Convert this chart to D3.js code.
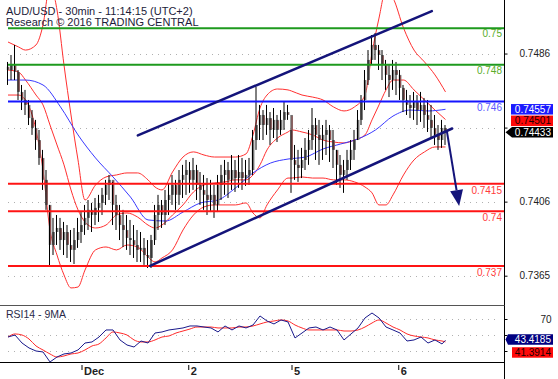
<!DOCTYPE html>
<html><head><meta charset="utf-8">
<script src="https://cdn.jsdelivr.net/npm/d3@7"></script>
<style>body{margin:0;background:#fff;}svg{display:block;font-family:"Liberation Sans",Arial,sans-serif;}</style>
</head><body><svg id="c" width="558" height="379"></svg>
<script>
// ---------- DATA ----------
const titleLines = ["AUD/USD - 30min - 11:14:15 (UTC+2)", "Research \u00a9 2016 TRADING CENTRAL"];
const firstOpen = 0.74790;
const high = [
0.74816,0.74854,0.74909,0.74772,0.74690,0.74663,0.74608,0.74553,0.74499,0.74444,
0.74335,0.74225,0.74034,0.73963,0.73979,0.73963,0.73941,0.73924,0.73897,0.73908,
0.73963,0.73995,0.74034,0.74061,0.74045,0.74072,0.74089,0.74127,0.74171,0.74198,
0.74160,0.74089,0.74034,0.74007,0.73979,0.73952,0.73924,0.73897,0.73886,0.73853,
0.73842,0.73870,0.74034,0.74089,0.74061,0.74116,0.74154,0.74198,0.74171,0.74225,
0.74253,0.74280,0.74269,0.74291,0.74253,0.74214,0.74198,0.74181,0.74171,0.74143,
0.74198,0.74253,0.74280,0.74269,0.74307,0.74280,0.74307,0.74291,0.74280,0.74291,
0.74444,0.74679,0.74581,0.74553,0.74581,0.74542,0.74564,0.74526,0.74553,0.74597,
0.74581,0.74444,0.74362,0.74335,0.74346,0.74400,0.74444,0.74564,0.74509,0.74499,
0.74471,0.74499,0.74471,0.74444,0.74335,0.74307,0.74280,0.74335,0.74389,0.74444,
0.74553,0.74635,0.74772,0.74881,0.74963,0.74974,0.74909,0.74881,0.74827,0.74799,
0.74827,0.74816,0.74772,0.74690,0.74663,0.74635,0.74652,0.74635,0.74652,0.74619,
0.74608,0.74581,0.74526,0.74471,0.74499,0.74471];
const low = [
0.74690,0.74717,0.74717,0.74608,0.74553,0.74526,0.74471,0.74417,0.74335,0.74253,
0.74116,0.74007,0.73695,0.73760,0.73815,0.73788,0.73760,0.73744,0.73722,0.73711,
0.73799,0.73826,0.73870,0.73897,0.73886,0.73924,0.73941,0.73979,0.74034,0.74061,
0.73924,0.73897,0.73842,0.73804,0.73788,0.73760,0.73744,0.73722,0.73722,0.73706,
0.73689,0.73689,0.73815,0.73897,0.73908,0.73924,0.73979,0.74034,0.74007,0.74034,
0.74072,0.74089,0.74100,0.74116,0.74061,0.74034,0.74007,0.73979,0.73995,0.73963,
0.73995,0.74061,0.74089,0.74072,0.74116,0.74105,0.74127,0.74116,0.74138,0.74143,
0.74198,0.74335,0.74389,0.74389,0.74417,0.74362,0.74400,0.74378,0.74417,0.74444,
0.74499,0.74100,0.74171,0.74160,0.74181,0.74225,0.74253,0.74335,0.74280,0.74253,
0.74280,0.74307,0.74269,0.74236,0.74143,0.74127,0.74100,0.74171,0.74225,0.74280,
0.74389,0.74471,0.74553,0.74690,0.74799,0.74827,0.74772,0.74717,0.74663,0.74624,
0.74663,0.74635,0.74608,0.74542,0.74526,0.74509,0.74499,0.74471,0.74488,0.74455,
0.74433,0.74400,0.74362,0.74335,0.74346,0.74362];
const close = [
0.74772,0.74799,0.74761,0.74652,0.74608,0.74581,0.74509,0.74455,0.74389,0.74291,
0.74171,0.74034,0.73815,0.73886,0.73908,0.73842,0.73886,0.73815,0.73788,0.73842,
0.73886,0.73924,0.73963,0.74007,0.73979,0.74018,0.74045,0.74089,0.74143,0.74171,
0.74034,0.73979,0.73924,0.73897,0.73853,0.73842,0.73815,0.73788,0.73799,0.73760,
0.73744,0.73842,0.73979,0.74034,0.73979,0.74061,0.74089,0.74143,0.74089,0.74171,
0.74198,0.74225,0.74171,0.74225,0.74143,0.74116,0.74089,0.74061,0.74089,0.74034,
0.74143,0.74198,0.74225,0.74171,0.74225,0.74181,0.74214,0.74181,0.74198,0.74225,
0.74389,0.74471,0.74526,0.74471,0.74509,0.74444,0.74499,0.74444,0.74499,0.74542,
0.74526,0.74280,0.74253,0.74236,0.74280,0.74335,0.74389,0.74471,0.74417,0.74389,
0.74417,0.74444,0.74389,0.74335,0.74253,0.74198,0.74225,0.74280,0.74335,0.74389,
0.74499,0.74608,0.74717,0.74827,0.74909,0.74881,0.74854,0.74799,0.74745,0.74717,
0.74772,0.74745,0.74674,0.74608,0.74581,0.74564,0.74597,0.74553,0.74581,0.74526,
0.74499,0.74455,0.74417,0.74389,0.74455,0.74433];

// moving average (blue), read every 5 bars
const maBars = [0,5,10,15,20,25,30,35,40,45,50,55,60,65,70,75,80,85,90,95,100,105,110,115,120,125];
const maBlue = [0.74717,0.74717,0.74690,0.74570,0.74417,0.74291,0.74187,0.74077,0.73952,0.73946,
0.73995,0.74045,0.74061,0.74127,0.74209,0.74263,0.74285,0.74296,0.74340,0.74367,
0.74395,0.74444,0.74520,0.74553,0.74548,0.74557];

// Bollinger bands (red)
const bbBars = [0,3,5,8,10,12,14,16,18,20,22,25,28,31,34,37,40,42,44,47,50,53,56,59,62,65,68,70,72,74,77,80,81,84,87,90,93,96,99,102,104,106,108,110,113,116,119,122,125];
const bbUpper = [0.74925,0.74898,0.74881,0.74909,0.75018,0.75237,0.75100,0.74799,0.74526,0.74280,
0.74061,0.74143,0.74187,0.74198,0.74209,0.74209,0.74171,0.74132,0.74116,0.74214,
0.74296,0.74324,0.74307,0.74296,0.74296,0.74296,0.74313,0.74417,0.74564,0.74635,
0.74668,0.74663,0.74657,0.74635,0.74624,0.74608,0.74570,0.74548,0.74570,0.74635,
0.74865,0.75056,0.75209,0.75166,0.75002,0.74881,0.74816,0.74745,0.74652];
const bbMid = [0.74772,0.74761,0.74717,0.74635,0.74581,0.74471,0.74362,0.74253,0.74116,0.74007,
0.73941,0.73908,0.73924,0.73979,0.73990,0.73968,0.73924,0.73908,0.73924,0.73979,
0.74034,0.74105,0.74143,0.74154,0.74160,0.74171,0.74171,0.74198,0.74253,0.74335,
0.74400,0.74433,0.74444,0.74433,0.74417,0.74389,0.74378,0.74373,0.74389,0.74417,
0.74499,0.74581,0.74663,0.74717,0.74717,0.74663,0.74608,0.74553,0.74501];
const bbLower = [0.74635,0.74635,0.74608,0.74444,0.74225,0.73897,0.73760,0.73651,0.73580,0.73585,
0.73678,0.73788,0.73804,0.73788,0.73815,0.73804,0.73749,0.73722,0.73744,0.73788,
0.73897,0.73979,0.74023,0.74034,0.74034,0.74034,0.74045,0.73990,0.73963,0.74034,
0.74116,0.74181,0.74181,0.74187,0.74181,0.74181,0.74171,0.74171,0.74160,0.74132,
0.74100,0.74034,0.74034,0.74089,0.74198,0.74280,0.74324,0.74351,0.74351];

// Support / resistance levels
const levels = [0.75, 0.748, 0.746, 0.7415, 0.74, 0.737];
const levelLabels = ["0.75", "0.748", "0.746", "0.7415", "0.74", "0.737"];
const levelKinds = ["res", "res", "pivot", "sup", "sup", "sup"];

// Trend channel and projected move
const channelUpper = [{bar: 37.1, price: 0.74414}, {bar: 121.1, price: 0.75094}];
const channelLower = [{bar: 40.6, price: 0.73701}, {bar: 126.9, price: 0.74452}];
const arrowMove = [{bar: 125.4, price: 0.74436}, {bar: 128.9, price: 0.74028}];

// Axes
const priceTicks = [0.74862, 0.74457, 0.74052, 0.73647];
const priceTickLabels = ["0.7486", "0.7446", "0.7406", "0.7365"];
const dayTicks = [21, 51.5, 81, 111.5];
const dayLabels = ["Dec", "2", "5", "6"];
const rsiTicks = [70, 50, 30];
const rsiGrid = [70, 50, 30];

// RSI(14) and its 9-period MA, read every 2 bars
const rsiBars = [0,2,4,6,8,10,12,14,16,18,20,22,24,26,28,30,32,34,36,38,40,42,44,46,48,50,52,54,56,58,60,62,64,66,68,70,72,74,76,78,80,82,84,86,88,90,92,94,96,98,100,102,104,106,108,110,112,114,116,118,120,122,124,125];
const rsi = [47.5,50,40,33.8,30,28.8,16.3,22.5,26.3,27.5,
31.3,40,41.3,47.5,56.3,56.3,43.8,37.5,35,42.5,
40,52.5,53.8,56.3,57.5,58.8,61.3,61.3,60,58.8,
53.8,61.3,56.3,61.3,58.8,62.5,73.8,67.5,63.8,68.8,
66.3,46.3,52.5,58.8,60,56.3,60,56.3,43.8,51.3,
58.8,71.3,77.5,71.3,60,56.3,52.5,42.5,43.8,47.5,
40,43.8,38.8,43.4185];
const rsiMA = [47.5,51.3,50,45,36.3,31.3,26.3,22.5,23.8,26.3,
27.5,31.3,36.3,38.8,46.3,53.8,52.5,50,43.8,41.3,
41.3,43.8,47.5,48.8,52.5,55,57.5,60,60,60,
58.8,58.8,58.8,60,60,61.3,63.8,66.3,67.5,68.8,
67.5,62.5,58.8,56.3,56.3,56.3,56.3,56.3,55,55,
56.3,60,65,68.8,65,60,56.3,51.3,48.8,47.5,
46.3,43.8,42.5,41.3914];

// ---------- DRAW ----------
const svg = d3.select("#c");
const W = 558, H = 379;
const axisX = 504.5;
svg.append("rect").attr("width", W).attr("height", H).attr("fill", "#fff");

const x = d3.scaleLinear().domain([0, 125]).range([8, 445.5]);
const y = d3.scaleLinear().domain([0.737, 0.75]).range([266.0, 28.3]);
const yr = d3.scaleLinear().domain([30, 70]).range([351, 319]);

const defs = svg.append("defs");
defs.append("clipPath").attr("id", "cm").append("rect").attr("x", 0).attr("y", 0).attr("width", 504).attr("height", 305);
defs.append("clipPath").attr("id", "cr").append("rect").attr("x", 0).attr("y", 306).attr("width", 504).attr("height", 57);

const colors = {res: "#1e9a1e", pivot: "#1515ff", sup: "#ff1414"};
const labelColors = {res: "#5aad2a", pivot: "#5a5aff", sup: "#ff3c3c"};

const main = svg.append("g").attr("clip-path", "url(#cm)");

// dotted grid
main.selectAll("line.grid").data(priceTicks).join("line")
  .attr("x1", 8).attr("x2", 500).attr("y1", d => Math.round(y(d)) + 0.5).attr("y2", d => Math.round(y(d)) + 0.5)
  .attr("stroke", "#b0b0b0").attr("stroke-dasharray", "1,5");

// bands
const bandLine = arr => d3.line().x((d, i) => x(bbBars[i])).y(d => y(d)).curve(d3.curveMonotoneX)(arr);
[bbUpper, bbMid, bbLower].forEach(arr => {
  main.append("path").attr("d", bandLine(arr)).attr("fill", "none").attr("stroke", "#ff3030").attr("stroke-width", 1);
});
main.append("path")
  .attr("d", d3.line().x((d, i) => x(maBars[i])).y(d => y(d)).curve(d3.curveMonotoneX)(maBlue))
  .attr("fill", "none").attr("stroke", "#3a3aff").attr("stroke-width", 1);

// candles
const bars = close.map((c, i) => ({i, o: i === 0 ? firstOpen : close[i - 1], h: high[i], l: low[i], c}));
const cg = main.append("g");
cg.selectAll("rect.b").data(bars).join("rect")
  .attr("x", d => x(d.i) - 1.2).attr("width", 2.6)
  .attr("y", d => y(Math.max(d.o, d.c))).attr("height", d => Math.max(1, Math.abs(y(d.o) - y(d.c))))
  .attr("fill", "#737373");
cg.selectAll("line.w").data(bars).join("line")
  .attr("x1", d => x(d.i) - 0.5).attr("x2", d => x(d.i) - 0.5)
  .attr("y1", d => y(d.h)).attr("y2", d => y(d.l))
  .attr("stroke", "#000").attr("stroke-width", 1);
cg.selectAll("line.c").data(bars.filter(d => d.c < d.o)).join("line")
  .attr("x1", d => x(d.i) + 0.6).attr("x2", d => x(d.i) + 0.6)
  .attr("y1", d => y(d.o) + 1).attr("y2", d => y(d.c) - 1)
  .attr("stroke", "#b02020").attr("stroke-width", 0.8).attr("opacity", 0.6);

// level lines
main.selectAll("line.lv").data(levels).join("line")
  .attr("x1", 8).attr("x2", 504).attr("y1", d => y(d)).attr("y2", d => y(d))
  .attr("stroke", (d, i) => colors[levelKinds[i]]).attr("stroke-width", 2);
main.selectAll("text.lv").data(levels).join("text")
  .attr("x", 502).attr("y", (d, i) => y(d) + (levelKinds[i] === "res" ? 8.8 : 10))
  .attr("text-anchor", "end").attr("font-size", 10)
  .attr("fill", (d, i) => labelColors[levelKinds[i]]).text((d, i) => levelLabels[i]);

// channel
const navy = "#14147a";
[channelUpper, channelLower].forEach(ch => {
  main.append("line").attr("x1", x(ch[0].bar)).attr("y1", y(ch[0].price))
    .attr("x2", x(ch[1].bar)).attr("y2", y(ch[1].price))
    .attr("stroke", navy).attr("stroke-width", 2.5).attr("stroke-linecap", "round");
});
// arrow
{
  const x0 = x(arrowMove[0].bar), y0 = y(arrowMove[0].price);
  const x1 = x(arrowMove[1].bar), y1 = y(arrowMove[1].price);
  const ang = Math.atan2(y1 - y0, x1 - x0);
  const hl = 16, hw = 6.5;
  const bx = x1 - hl * Math.cos(ang), by = y1 - hl * Math.sin(ang);
  main.append("line").attr("x1", x0).attr("y1", y0).attr("x2", bx).attr("y2", by)
    .attr("stroke", navy).attr("stroke-width", 2);
  const px = -Math.sin(ang), py = Math.cos(ang);
  main.append("path").attr("d", `M${x1},${y1}L${bx + px * hw},${by + py * hw}L${bx - px * hw},${by - py * hw}Z`).attr("fill", navy);
}

// title
svg.append("g").selectAll("text").data(titleLines).join("text")
  .attr("x", 6).attr("y", (d, i) => 14.5 + i * 11.5).attr("font-size", 11).attr("fill", "#1c1c3a").text(d => d);

// right price axis
const pa = svg.append("g").attr("transform", `translate(${axisX},0)`)
  .call(d3.axisRight(y).tickValues(priceTicks).tickFormat((d, i) => priceTickLabels[i]).tickSize(3).tickPadding(12));
pa.select(".domain").remove();
pa.selectAll("text").attr("font-size", 10).attr("fill", "#222").attr("font-family", "Liberation Sans, Arial, sans-serif");
pa.selectAll("line").attr("stroke", "#000");
svg.append("line").attr("x1", axisX).attr("x2", axisX).attr("y1", 0).attr("y2", H).attr("stroke", "#000");

// panel separator
svg.append("line").attr("x1", 0).attr("x2", axisX).attr("y1", 305.5).attr("y2", 305.5).attr("stroke", "#555");

// value boxes (stacked so that they never overlap)
const boxes = [];
const BH = 10.5, GAP = 1;
function valueBox(cyWanted, txt, fill, tcol, arrow, x0, stackAfter) {
  let cy = cyWanted;
  if (stackAfter) cy = Math.max(cy, stackAfter.y1 + GAP + BH / 2);
  const g = svg.append("g");
  const bx = x0, bw = 553 - x0;
  const b = {y0: cy - BH / 2, y1: cy + BH / 2};
  boxes.push(b);
  if (arrow) {
    g.append("path").attr("d", `M${axisX + 1},${cy}L${bx},${cy - BH / 2}L${bx + bw},${cy - BH / 2}L${bx + bw},${cy + BH / 2}L${bx},${cy + BH / 2}Z`).attr("fill", fill);
  } else {
    g.append("rect").attr("x", bx).attr("y", cy - BH / 2).attr("width", bw).attr("height", BH).attr("fill", fill);
  }
  g.append("text").attr("x", 551).attr("y", cy + 3.6).attr("text-anchor", "end").attr("font-size", 10).attr("fill", tcol).text(txt);
  return b;
}
const f5 = d3.format(".5f"), f4 = d3.format(".4f");
const lastMA = maBlue[maBlue.length - 1], lastMid = bbMid[bbMid.length - 1], lastClose = close[close.length - 1];
let b1 = valueBox(y(lastMA), f5(lastMA), "#1a1aff", "#fff", false, 511, null);
let b2 = valueBox(y(lastMid), f5(lastMid), "#ff0a0a", "#200", false, 511, b1);
valueBox(y(lastClose), f5(lastClose), "#000", "#fff", true, 512, b2);

// RSI panel
svg.append("text").attr("x", 6).attr("y", 318).attr("font-size", 10.5).attr("fill", "#2a2a48").text("RSI14 - 9MA");
const rp = svg.append("g").attr("clip-path", "url(#cr)");
rp.selectAll("line").data(rsiGrid).join("line")
  .attr("x1", 8).attr("x2", 500).attr("y1", d => Math.round(yr(d)) + 0.5).attr("y2", d => Math.round(yr(d)) + 0.5)
  .attr("stroke", "#b0b0b0").attr("stroke-dasharray", "1,5");
rp.append("path").attr("d", d3.line().x((d, i) => x(rsiBars[i])).y(d => yr(d)).curve(d3.curveMonotoneX)(rsiMA))
  .attr("fill", "none").attr("stroke", "#ff2a2a").attr("stroke-width", 1);
rp.append("path").attr("d", d3.line().x((d, i) => x(rsiBars[i])).y(d => yr(d))(rsi))
  .attr("fill", "none").attr("stroke", "#1a1a8c").attr("stroke-width", 1);
const ra = svg.append("g").attr("transform", `translate(${axisX},0)`)
  .call(d3.axisRight(yr).tickValues(rsiTicks).tickSize(3).tickPadding(33));
ra.select(".domain").remove();
ra.selectAll("text").attr("font-size", 10).attr("fill", "#222").attr("font-family", "Liberation Sans, Arial, sans-serif");
const rv = rsi[rsi.length - 1], rmv = rsiMA[rsiMA.length - 1];
let r1 = valueBox(yr(rv) - 0.8, f4(rv), "#000080", "#fff", true, 508, null);
valueBox(yr(rmv), f4(rmv), "#ff0a0a", "#200", false, 512, {y0: r1.y0, y1: r1.y1 + 1.5});

// axis labels whose centre sits behind a value box are not visible: drop them
[[pa, y], [ra, yr]].forEach(([ax, sc]) => ax.selectAll(".tick").each(function (d) {
  const cy = sc(d);
  if (boxes.some(b => cy >= b.y0 - 1 && cy <= b.y1 + 1)) d3.select(this).select("text").remove();
}));

// bottom axis
svg.append("line").attr("x1", 0).attr("x2", axisX).attr("y1", 362.5).attr("y2", 362.5).attr("stroke", "#000");
const xa = svg.append("g").attr("transform", "translate(0,365)")
  .call(d3.axisBottom(x).tickValues(dayTicks).tickFormat((d, i) => dayLabels[i]).tickSize(5).tickPadding(-5));
xa.select(".domain").remove();
xa.selectAll("line").attr("stroke", "#000");
xa.selectAll("text").attr("text-anchor", "start").attr("dx", 2).attr("dy", 0).attr("y", 9.5)
  .attr("font-size", 11).attr("font-weight", "bold").attr("fill", "#222").attr("font-family", "Liberation Sans, Arial, sans-serif");
</script></body></html>
